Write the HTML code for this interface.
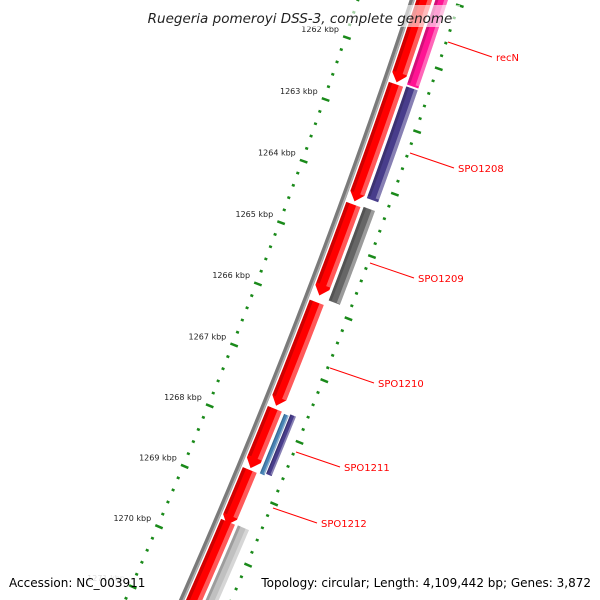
<!DOCTYPE html>
<html><head><meta charset="utf-8"><style>
body{margin:0;background:#fff;overflow:hidden}
svg{display:block;font-family:"DejaVu Sans","Liberation Sans",sans-serif}
</style></head><body>
<svg id="c" width="600" height="600" viewBox="0 0 600 600"></svg>
<script>
const majorTicks=[1262,1263,1264,1265,1266,1267,1268,1269,1270,1271];
const featStart=[1260.6,1262.43,1264.36,1265.94,1267.67,1268.67,1269.52,1260.5,1262.41,1264.34,1267.69,1267.66,1269.51];
const featEnd=[1262.40,1264.31,1265.83,1267.62,1268.64,1269.57,1271.3,1262.38,1264.20,1265.85,1268.66,1268.63,1271.3];
const featColor=['#f00','#f00','#f00','#f00','#f00','#f00','#f00','#ff1493','#483d8b','#666','#4682b4','#483d8b','#c0c0c0'];
const featArrow=[1,1,1,1,1,1,1,0,0,0,0,0,0];
const featInner=[56,56,56,56,56,56,56,74,74,74,74,80,74];
const featOuter=[71,71,71,71,71,71,71,86,86,86,79,86,86];
const labelText=['recN','SPO1208','SPO1209','SPO1210','SPO1211','SPO1212'];
const labelX=[496,458,418,378,344,321];
const labelY=[57,168,278,383,467,523];
const NS='http://www.w3.org/2000/svg';
const svg=document.getElementById('c');
function P(k,d){const u=k-1262;const x0=345-21*u-0.31*u*u,y0=37+62*u-0.11*u*u;
 const tx=-21-0.62*u,ty=62-0.22*u,l=Math.hypot(tx,ty);return [x0+ty/l*d,y0-tx/l*d];}
function el(t,a,p){const e=document.createElementNS(NS,t);for(const k in a)e.setAttribute(k,a[k]);(p||svg).appendChild(e);return e;}
let pts=[];for(let k=1260.5;k<=1271.5;k+=0.1)pts.push(P(k,52).join(','));
let bb=el('polyline',{points:pts.join(' '),fill:'none',stroke:'#7a7a7a','stroke-width':5});

pts=[];for(let k=1260.5;k<=1271.5;k+=0.1)pts.push(P(k,53.5).join(','));
el('polyline',{points:pts.join(' '),fill:'none',stroke:'#b0b0b0','stroke-width':1.5});
for(let i=0;i<featStart.length;i++){
 const s=featStart[i],e=featEnd[i],a=featInner[i],b=featOuter[i];const head=featArrow[i]?0.13:0;
 const outer=[],inner=[];
 for(let k=s;k<=e-head+1e-6;k+=0.05){outer.push(P(k,b));inner.push(P(k,a));}
 outer.push(P(e-head,b));inner.push(P(e-head,a));
 let poly=outer.slice();if(head)poly.push(P(e,(a+b)/2));poly=poly.concat(inner.reverse());
 const g=el('polygon',{points:poly.map(p=>p.join(',')).join(' '),fill:featColor[i]});
 
 const w=b-a;const hl=[];for(let k=s;k<=e-head;k+=0.05)hl.push(P(k,b-w*0.15).join(','));
 el('polyline',{points:hl.join(' '),fill:'none',stroke:'rgba(255,255,255,0.35)','stroke-width':w*0.3});
 const sh=[];for(let k=s;k<=e-head;k+=0.05)sh.push(P(k,a+w*0.12).join(','));
 el('polyline',{points:sh.join(' '),fill:'none',stroke:'rgba(0,0,0,0.18)','stroke-width':w*0.24});
}
for(let m=1260.4;m<=1271.6;m+=0.2){const k=Math.round(m*10)/10;const isMaj=Math.abs(k-Math.round(k))<1e-6;
 for(const d of [0,97]){const p1=P(k,d-(isMaj?2:1)),p2=P(k,d+(isMaj?6:2));
  const t=el('line',{x1:p1[0],y1:p1[1],x2:p2[0],y2:p2[1],stroke:'#1a8a1a','stroke-width':2.5});
  }}
majorTicks.forEach(k=>{const p=P(k,0);const t=el('text',{x:p[0]-6,y:p[1]-5,'text-anchor':'end','font-size':8,fill:'#222',opacity:k>1270?0.15:1});
 t.textContent=k+' kbp';});
labelText.forEach((s,i)=>{const x=labelX[i],y=labelY[i];
 const l=el('line',{x1:x-48,y1:y-15,x2:x-4,y2:y,stroke:'#f00','stroke-width':1});
 
 const t=el('text',{x:x,y:y+4,'font-size':10,fill:'#f00'});t.textContent=s;
 });
el('rect',{x:140,y:5,width:320,height:22,fill:'rgba(255,255,255,0.6)'});
let t=el('text',{x:300,y:23,'text-anchor':'middle','font-size':13.5,'font-style':'italic',fill:'#222'});
t.textContent='Ruegeria pomeroyi DSS-3, complete genome';

t=el('text',{x:9,y:587,'font-size':12,fill:'#000'});t.textContent='Accession: NC_003911';

t=el('text',{x:591,y:587,'text-anchor':'end','font-size':12,fill:'#000'});
t.textContent='Topology: circular; Length: 4,109,442 bp; Genes: 3,872';

</script>
</body></html>
